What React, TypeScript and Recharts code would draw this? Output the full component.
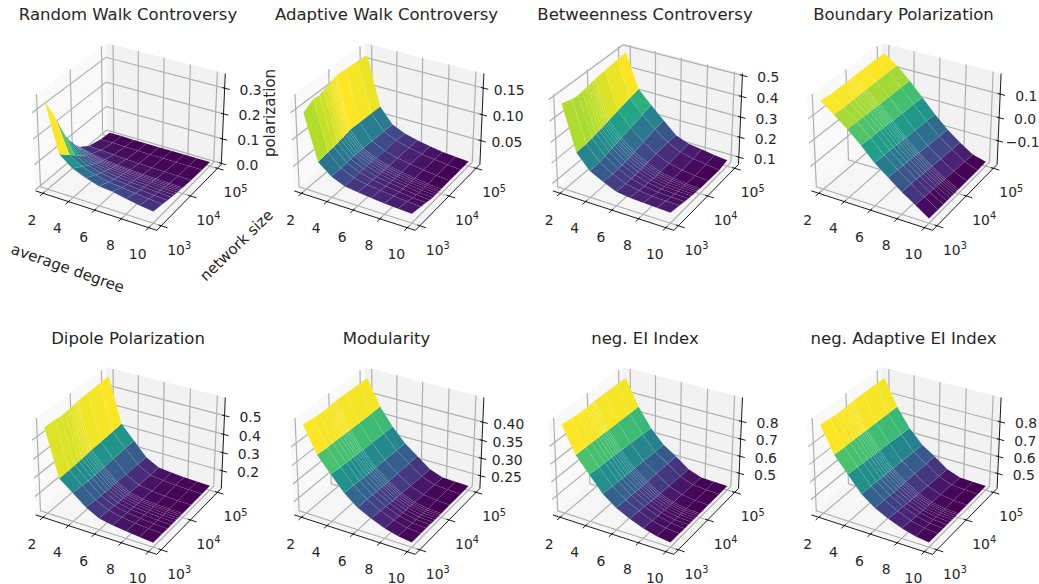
import { ScatterChart, Scatter, XAxis, YAxis } from "recharts";

const WIDTH = 1039;
const HEIGHT = 584;
const FONT = "DejaVu Sans";

const avgDegrees = [2, 3, 4, 5, 6, 7, 8, 9, 10];
const networkSizes = [1000, 2000, 3000, 4000, 5000, 6000, 7000, 8000, 9000, 10000, 20000, 50000, 100000];

// one row per average degree, one column per network size
const randomWalk = [
  [0.34, 0.245, 0.18, 0.14, 0.115, 0.1, 0.085, 0.075, 0.065, 0.058, 0.03, 0.016, 0.012],
  [0.15, 0.115, 0.095, 0.08, 0.07, 0.062, 0.056, 0.052, 0.048, 0.045, 0.028, 0.017, 0.013],
  [0.11, 0.085, 0.07, 0.06, 0.053, 0.048, 0.044, 0.041, 0.038, 0.036, 0.024, 0.015, 0.012],
  [0.089, 0.068, 0.056, 0.049, 0.044, 0.04, 0.037, 0.034, 0.032, 0.03, 0.021, 0.014, 0.012],
  [0.073, 0.056, 0.047, 0.041, 0.037, 0.034, 0.032, 0.03, 0.028, 0.027, 0.019, 0.014, 0.012],
  [0.068, 0.05, 0.042, 0.037, 0.033, 0.031, 0.029, 0.027, 0.026, 0.024, 0.018, 0.014, 0.012],
  [0.057, 0.044, 0.037, 0.033, 0.03, 0.028, 0.026, 0.025, 0.024, 0.023, 0.017, 0.013, 0.012],
  [0.048, 0.039, 0.033, 0.03, 0.027, 0.026, 0.024, 0.023, 0.022, 0.021, 0.016, 0.013, 0.012],
  [0.041, 0.034, 0.029, 0.027, 0.025, 0.023, 0.022, 0.021, 0.02, 0.019, 0.015, 0.013, 0.012],
];
const adaptiveWalk = [
  [0.147, 0.158, 0.156, 0.16, 0.162, 0.165, 0.166, 0.167, 0.168, 0.169, 0.168, 0.166, 0.163],
  [0.063, 0.066, 0.067, 0.068, 0.07, 0.07, 0.072, 0.072, 0.073, 0.074, 0.073, 0.072, 0.071],
  [0.043, 0.043, 0.044, 0.045, 0.046, 0.045, 0.045, 0.045, 0.045, 0.045, 0.044, 0.043, 0.042],
  [0.0325, 0.032, 0.033, 0.033, 0.034, 0.034, 0.034, 0.034, 0.033, 0.033, 0.032, 0.032, 0.031],
  [0.029, 0.027, 0.027, 0.026, 0.026, 0.026, 0.026, 0.026, 0.026, 0.026, 0.025, 0.025, 0.025],
  [0.026, 0.024, 0.022, 0.022, 0.021, 0.021, 0.021, 0.021, 0.021, 0.021, 0.021, 0.02, 0.02],
  [0.024, 0.021, 0.019, 0.018, 0.018, 0.017, 0.017, 0.017, 0.017, 0.017, 0.017, 0.017, 0.016],
  [0.022, 0.019, 0.016, 0.015, 0.014, 0.014, 0.014, 0.014, 0.014, 0.014, 0.014, 0.014, 0.014],
  [0.021, 0.017, 0.015, 0.013, 0.012, 0.012, 0.012, 0.012, 0.011, 0.012, 0.012, 0.012, 0.012],
];
const betweenness = [
  [0.475, 0.46, 0.456, 0.46, 0.462, 0.465, 0.465, 0.47, 0.47, 0.472, 0.478, 0.485, 0.489],
  [0.262, 0.265, 0.27, 0.275, 0.278, 0.28, 0.283, 0.285, 0.287, 0.29, 0.3, 0.315, 0.325],
  [0.193, 0.196, 0.201, 0.206, 0.211, 0.213, 0.216, 0.218, 0.22, 0.222, 0.234, 0.249, 0.261],
  [0.16, 0.156, 0.158, 0.16, 0.163, 0.165, 0.166, 0.168, 0.169, 0.171, 0.181, 0.194, 0.202],
  [0.132, 0.129, 0.129, 0.13, 0.131, 0.132, 0.133, 0.134, 0.135, 0.136, 0.141, 0.147, 0.144],
  [0.123, 0.114, 0.112, 0.111, 0.11, 0.11, 0.11, 0.11, 0.11, 0.11, 0.112, 0.116, 0.12],
  [0.12, 0.108, 0.103, 0.101, 0.1, 0.099, 0.098, 0.098, 0.098, 0.098, 0.099, 0.102, 0.11],
  [0.117, 0.105, 0.1, 0.097, 0.096, 0.094, 0.093, 0.093, 0.092, 0.091, 0.09, 0.092, 0.1],
  [0.114, 0.104, 0.098, 0.095, 0.093, 0.091, 0.09, 0.089, 0.088, 0.087, 0.084, 0.083, 0.092],
];
const boundary = [
  [0.168, 0.161, 0.162, 0.163, 0.161, 0.163, 0.162, 0.164, 0.163, 0.165, 0.164, 0.166, 0.163],
  [0.127, 0.122, 0.124, 0.123, 0.125, 0.124, 0.126, 0.125, 0.125, 0.126, 0.126, 0.127, 0.126],
  [0.083, 0.08, 0.08, 0.08, 0.08, 0.08, 0.079, 0.079, 0.078, 0.078, 0.077, 0.076, 0.075],
  [0.033, 0.03, 0.03, 0.028, 0.027, 0.027, 0.026, 0.025, 0.025, 0.024, 0.022, 0.019, 0.017],
  [-0.023, -0.025, -0.026, -0.027, -0.028, -0.029, -0.03, -0.03, -0.031, -0.032, -0.034, -0.038, -0.041],
  [-0.066, -0.07, -0.072, -0.074, -0.075, -0.076, -0.077, -0.078, -0.079, -0.08, -0.084, -0.089, -0.092],
  [-0.109, -0.112, -0.114, -0.116, -0.117, -0.118, -0.119, -0.12, -0.12, -0.121, -0.125, -0.13, -0.134],
  [-0.146, -0.15, -0.152, -0.153, -0.154, -0.155, -0.156, -0.157, -0.158, -0.158, -0.162, -0.167, -0.17],
  [-0.185, -0.186, -0.186, -0.187, -0.186, -0.187, -0.186, -0.187, -0.186, -0.187, -0.187, -0.187, -0.185],
];
const dipole = [
  [0.558, 0.558, 0.552, 0.554, 0.556, 0.558, 0.56, 0.562, 0.563, 0.565, 0.568, 0.571, 0.573],
  [0.311, 0.313, 0.314, 0.315, 0.316, 0.318, 0.318, 0.32, 0.32, 0.322, 0.324, 0.328, 0.331],
  [0.257, 0.25, 0.249, 0.249, 0.249, 0.249, 0.25, 0.25, 0.25, 0.251, 0.252, 0.255, 0.256],
  [0.2, 0.194, 0.191, 0.19, 0.189, 0.188, 0.188, 0.188, 0.187, 0.187, 0.185, 0.184, 0.182],
  [0.162, 0.16, 0.157, 0.155, 0.154, 0.153, 0.152, 0.152, 0.151, 0.151, 0.148, 0.145, 0.144],
  [0.148, 0.144, 0.142, 0.14, 0.138, 0.138, 0.137, 0.137, 0.136, 0.136, 0.135, 0.135, 0.136],
  [0.14, 0.135, 0.133, 0.132, 0.131, 0.131, 0.13, 0.13, 0.13, 0.129, 0.129, 0.13, 0.131],
  [0.132, 0.129, 0.127, 0.126, 0.126, 0.125, 0.125, 0.125, 0.125, 0.125, 0.125, 0.126, 0.127],
  [0.125, 0.124, 0.123, 0.123, 0.123, 0.123, 0.123, 0.123, 0.123, 0.123, 0.123, 0.124, 0.125],
];
const modularity = [
  [0.455, 0.451, 0.45, 0.45, 0.45, 0.451, 0.451, 0.452, 0.452, 0.453, 0.452, 0.451, 0.45],
  [0.385, 0.383, 0.383, 0.383, 0.382, 0.382, 0.382, 0.382, 0.381, 0.381, 0.381, 0.38, 0.38],
  [0.3435, 0.34, 0.34, 0.339, 0.339, 0.338, 0.338, 0.338, 0.337, 0.337, 0.336, 0.334, 0.3335],
  [0.304, 0.302, 0.301, 0.3, 0.3, 0.3, 0.299, 0.299, 0.299, 0.299, 0.298, 0.296, 0.2955],
  [0.275, 0.274, 0.273, 0.272, 0.272, 0.272, 0.271, 0.271, 0.271, 0.271, 0.27, 0.269, 0.268],
  [0.2565, 0.254, 0.252, 0.251, 0.25, 0.25, 0.249, 0.249, 0.249, 0.248, 0.246, 0.243, 0.241],
  [0.2415, 0.239, 0.237, 0.236, 0.236, 0.235, 0.235, 0.234, 0.234, 0.234, 0.232, 0.23, 0.228],
  [0.2315, 0.23, 0.229, 0.228, 0.228, 0.227, 0.227, 0.227, 0.227, 0.227, 0.227, 0.227, 0.2265],
  [0.2265, 0.226, 0.226, 0.226, 0.225, 0.225, 0.225, 0.225, 0.225, 0.225, 0.225, 0.225, 0.225],
];
const eiIndex = [
  [0.91, 0.903, 0.9, 0.9, 0.9, 0.9, 0.901, 0.902, 0.903, 0.904, 0.904, 0.905, 0.9],
  [0.764, 0.762, 0.762, 0.761, 0.761, 0.76, 0.76, 0.76, 0.759, 0.759, 0.758, 0.756, 0.754],
  [0.678, 0.672, 0.67, 0.669, 0.668, 0.667, 0.666, 0.665, 0.664, 0.664, 0.66, 0.654, 0.648],
  [0.591, 0.588, 0.586, 0.584, 0.583, 0.582, 0.582, 0.581, 0.581, 0.58, 0.578, 0.573, 0.57],
  [0.534, 0.531, 0.53, 0.529, 0.528, 0.528, 0.527, 0.527, 0.527, 0.526, 0.525, 0.523, 0.522],
  [0.498, 0.492, 0.488, 0.485, 0.484, 0.483, 0.482, 0.481, 0.48, 0.48, 0.476, 0.47, 0.466],
  [0.467, 0.46, 0.457, 0.455, 0.454, 0.453, 0.452, 0.452, 0.451, 0.451, 0.448, 0.443, 0.44],
  [0.446, 0.442, 0.44, 0.439, 0.438, 0.438, 0.437, 0.437, 0.437, 0.437, 0.436, 0.436, 0.436],
  [0.436, 0.435, 0.434, 0.434, 0.434, 0.433, 0.433, 0.433, 0.433, 0.433, 0.433, 0.433, 0.433],
];
const adaptiveEi = [
  [0.912, 0.904, 0.902, 0.902, 0.902, 0.903, 0.904, 0.905, 0.906, 0.907, 0.907, 0.906, 0.902],
  [0.768, 0.765, 0.765, 0.764, 0.764, 0.763, 0.763, 0.763, 0.762, 0.762, 0.761, 0.758, 0.756],
  [0.68, 0.675, 0.673, 0.672, 0.67, 0.669, 0.668, 0.667, 0.667, 0.666, 0.662, 0.656, 0.65],
  [0.593, 0.59, 0.588, 0.586, 0.585, 0.584, 0.584, 0.583, 0.583, 0.582, 0.58, 0.575, 0.572],
  [0.536, 0.533, 0.532, 0.531, 0.53, 0.53, 0.529, 0.529, 0.529, 0.528, 0.527, 0.525, 0.524],
  [0.5, 0.494, 0.49, 0.487, 0.486, 0.485, 0.484, 0.483, 0.482, 0.482, 0.478, 0.472, 0.468],
  [0.469, 0.462, 0.459, 0.457, 0.456, 0.455, 0.454, 0.454, 0.453, 0.453, 0.45, 0.445, 0.442],
  [0.448, 0.444, 0.442, 0.441, 0.44, 0.44, 0.439, 0.439, 0.439, 0.439, 0.438, 0.438, 0.438],
  [0.438, 0.437, 0.436, 0.436, 0.436, 0.435, 0.435, 0.435, 0.435, 0.435, 0.435, 0.435, 0.435],
];

const titles = [
  "Random Walk Controversy",
  "Adaptive Walk Controversy",
  "Betweenness Controversy",
  "Boundary Polarization",
  "Dipole Polarization",
  "Modularity",
  "neg. EI Index",
  "neg. Adaptive EI Index",
];
const surfaces = [randomWalk, adaptiveWalk, betweenness, boundary, dipole, modularity, eiIndex, adaptiveEi];
const zTicks = [
  ["0.0", "0.1", "0.2", "0.3"],
  ["0.05", "0.10", "0.15"],
  ["0.1", "0.2", "0.3", "0.4", "0.5"],
  ["-0.1", "0.0", "0.1"],
  ["0.2", "0.3", "0.4", "0.5"],
  ["0.25", "0.30", "0.35", "0.40"],
  ["0.5", "0.6", "0.7", "0.8"],
  ["0.5", "0.6", "0.7", "0.8"],
];
const xTicks = [2, 4, 6, 8, 10];
const yTicks = [3, 4, 5];

const VIRIDIS = [
  "#440154", "#482475", "#414487", "#355f8d", "#2a788e", "#21918c",
  "#22a884", "#44bf70", "#7ad151", "#bddf26", "#fde725",
];

// layout of one 3D axes box
const CENTER_X = 130.1;
const CENTER_Y = 132.4;
const PROJ_SCALE = 1215;
const COL_STEP = 258.6;
const ROW_STEP = 324;
const BOX = [1.1429, 1.1429, 0.875];
const DIST = 10;
const XY_MARGIN = 0.0729;
const Z_MARGIN = 0.05;

const TITLE_SIZE = 16.5;
const TICK_SIZE = 13.9;
const AXIS_SIZE = 15;

// default 3D view, elev 30 azim -60
const NORMAL = [0.433, -0.75, 0.5];
const RIGHT = [0.866, 0.5, 0];
const UP = [-0.25, 0.433, 0.866];

const dot = (a: number[], b: number[]) => a[0] * b[0] + a[1] * b[1] + a[2] * b[2];

function project(fx: number, fy: number, fz: number, panel: number) {
  const d = [(fx - 0.5) * BOX[0], (fy - 0.5) * BOX[1], (fz - 0.5) * BOX[2]];
  const depth = DIST - dot(NORMAL, d);
  const col = panel % 4;
  const row = Math.floor(panel / 4);
  return {
    x: CENTER_X + col * COL_STEP + (PROJ_SCALE * dot(RIGHT, d)) / depth,
    y: CENTER_Y + row * ROW_STEP - (PROJ_SCALE * dot(UP, d)) / depth,
    depth,
  };
}

function hexToRgb(hex: string) {
  return [1, 3, 5].map((i) => parseInt(hex.slice(i, i + 2), 16));
}

function viridis(t: number) {
  const pos = Math.min(Math.max(t, 0), 1) * (VIRIDIS.length - 1);
  const i = Math.min(Math.floor(pos), VIRIDIS.length - 2);
  const a = hexToRgb(VIRIDIS[i]);
  const b = hexToRgb(VIRIDIS[i + 1]);
  const c = a.map((v, k) => Math.round(v + (b[k] - v) * (pos - i)));
  return `rgb(${c[0]},${c[1]},${c[2]})`;
}

const pad = (lo: number, hi: number, margin: number) => {
  const m = (hi - lo) * margin;
  return [lo - m, hi + m];
};
const [xLo, xHi] = pad(avgDegrees[0], avgDegrees[avgDegrees.length - 1], XY_MARGIN);
const [yLo, yHi] = pad(3, 5, XY_MARGIN);
const fracX = (v: number) => (v - xLo) / (xHi - xLo);
const fracY = (v: number) => (v - yLo) / (yHi - yLo);

type Pt = { x: number; y: number };
type Mark = { px: number; py: number; pts: Pt[]; fill?: string; stroke?: string; sw?: number; seam?: boolean };
type Label = { px: number; py: number; text: string; sup?: string; size: number; rotate?: number };

function makeMark(pts: Pt[], style: Partial<Mark>): Mark {
  return { px: pts[0].x, py: pts[0].y, pts, ...style };
}

const panes: Mark[] = [];
const grid: Mark[] = [];
const axes: Mark[] = [];
const facets: Mark[] = [];
const labels: Label[] = [];

surfaces.forEach((surface, panel) => {
  const all = surface.flat();
  const [zLo, zHi] = pad(Math.min(...all), Math.max(...all), Z_MARGIN);
  const fracZ = (v: number) => (v - zLo) / (zHi - zLo);
  const p = (fx: number, fy: number, fz: number) => project(fx, fy, fz, panel);

  panes.push(makeMark([p(0, 0, 0), p(0, 1, 0), p(0, 1, 1), p(0, 0, 1)], { fill: "#f9f9f9" }));
  panes.push(makeMark([p(0, 1, 0), p(1, 1, 0), p(1, 1, 1), p(0, 1, 1)], { fill: "#f2f2f2" }));
  panes.push(makeMark([p(0, 0, 0), p(1, 0, 0), p(1, 1, 0), p(0, 1, 0)], { fill: "#f6f6f6" }));

  const line = { stroke: "#b0b0b0", sw: 1.2 };
  const tick = { stroke: "#000", sw: 0.9 };
  xTicks.forEach((v) => {
    const f = fracX(v);
    grid.push(makeMark([p(f, 0, 0), p(f, 1, 0), p(f, 1, 1)], line));
    axes.push(makeMark([p(f, 0.02, 0), p(f, -0.04, 0)], tick));
    const at = p(f, 0, 0);
    labels.push({ px: at.x - 11, py: at.y + 31.5, text: String(v), size: TICK_SIZE });
  });
  yTicks.forEach((v) => {
    const f = fracY(v);
    grid.push(makeMark([p(1, f, 0), p(0, f, 0), p(0, f, 1)], line));
    axes.push(makeMark([p(0.98, f, 0), p(1.05, f, 0)], tick));
    const at = p(1, f, 0);
    labels.push({ px: at.x + 18, py: at.y + 29, text: "10", sup: String(v), size: TICK_SIZE });
  });
  zTicks[panel].forEach((t) => {
    const f = fracZ(parseFloat(t));
    grid.push(makeMark([p(0, 0, f), p(0, 1, f), p(1, 1, f)], line));
    axes.push(makeMark([p(0.98, 1, f), p(1.04, 1, f)], tick));
    const at = p(1, 1, f);
    const nudge = t.startsWith("-") ? 1.5 : 0;
    labels.push({ px: at.x + 26 - nudge, py: at.y + 6.5, text: t.replace("-", "\u2212"), size: TICK_SIZE });
  });
  axes.push(makeMark([p(0, 0, 0), p(1, 0, 0)], tick));
  axes.push(makeMark([p(1, 0, 0), p(1, 1, 0)], tick));
  axes.push(makeMark([p(1, 1, 0), p(1, 1, 1)], tick));

  // facet colour follows the mean height of its four corners
  const cells: { depth: number; zMean: number; pts: Pt[] }[] = [];
  for (let i = 0; i < avgDegrees.length - 1; i++) {
    for (let j = 0; j < networkSizes.length - 1; j++) {
      const corners = [[i, j], [i + 1, j], [i + 1, j + 1], [i, j + 1]];
      const pts = corners.map(([a, b]) =>
        p(fracX(avgDegrees[a]), fracY(Math.log10(networkSizes[b])), fracZ(surface[a][b]))
      );
      cells.push({
        depth: pts.reduce((s, q) => s + q.depth, 0) / 4,
        zMean: corners.reduce((s, [a, b]) => s + surface[a][b], 0) / 4,
        pts,
      });
    }
  }
  const means = cells.map((c) => c.zMean);
  const lo = Math.min(...means);
  const hi = Math.max(...means);
  cells.sort((a, b) => b.depth - a.depth);
  cells.forEach((c) =>
    facets.push(makeMark(c.pts, { fill: viridis((c.zMean - lo) / (hi - lo)), seam: true }))
  );

  const col = panel % 4;
  const row = Math.floor(panel / 4);
  labels.push({ px: 128 + col * 258.5, py: 20 + row * ROW_STEP, text: titles[panel], size: TITLE_SIZE });
});

labels.push({ px: 66, py: 273, text: "average degree", size: AXIS_SIZE, rotate: 19.5 });
labels.push({ px: 240, py: 249, text: "network size", size: AXIS_SIZE, rotate: -44 });
labels.push({ px: 275, py: 113, text: "polarization", size: AXIS_SIZE, rotate: -90 });

function MarkShape(props: any) {
  const { cx, cy, payload } = props;
  const points = payload.pts
    .map((q: Pt) => `${cx + q.x - payload.px},${cy + q.y - payload.py}`)
    .join(" ");
  if (payload.seam) {
    return <polygon points={points} fill={payload.fill} stroke="#fff" strokeOpacity={0.14} strokeWidth={0.4} />;
  }
  if (payload.fill) return <polygon points={points} fill={payload.fill} stroke="none" />;
  return <polyline points={points} fill="none" stroke={payload.stroke} strokeWidth={payload.sw} />;
}

function LabelShape(props: any) {
  const { cx, cy, payload } = props;
  return (
    <text
      x={cx}
      y={cy}
      textAnchor="middle"
      fontFamily={FONT}
      fontSize={payload.size}
      fill="#262626"
      transform={payload.rotate ? `rotate(${payload.rotate} ${cx} ${cy})` : undefined}
    >
      {payload.text}
      {payload.sup && (
        <tspan dy={-5.5} fontSize={payload.size * 0.7}>
          {payload.sup}
        </tspan>
      )}
    </text>
  );
}

export default function App() {
  return (
    <div style={{ position: "absolute", left: 0, top: 0, background: "#fff" }}>
      <ScatterChart width={WIDTH} height={HEIGHT} margin={{ top: 0, right: 0, bottom: 0, left: 0 }}>
        <XAxis type="number" dataKey="px" domain={[0, WIDTH]} hide />
        <YAxis type="number" dataKey="py" domain={[0, HEIGHT]} reversed hide />
        <Scatter data={panes} shape={MarkShape} isAnimationActive={false} />
        <Scatter data={grid} shape={MarkShape} isAnimationActive={false} />
        <Scatter data={axes} shape={MarkShape} isAnimationActive={false} />
        <Scatter data={facets} shape={MarkShape} isAnimationActive={false} />
        <Scatter data={labels} shape={LabelShape} isAnimationActive={false} />
      </ScatterChart>
    </div>
  );
}
